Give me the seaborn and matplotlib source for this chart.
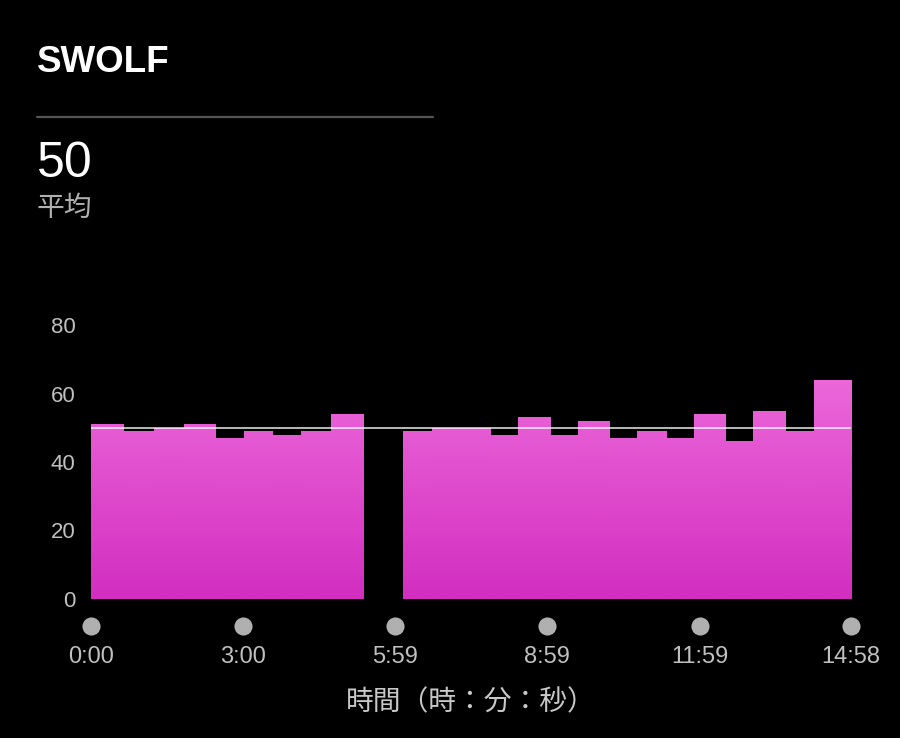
import numpy as np
import pandas as pd
import matplotlib
matplotlib.use("Agg")
import matplotlib.pyplot as plt
import matplotlib.transforms as mtransforms
from matplotlib.colors import LinearSegmentedColormap
import seaborn as sns

# lap data (seconds per lap, SWOLF per lap); None = rest
lap_secs = [38, 37, 35, 37, 34, 34, 33, 36, 38,
            47,
            34, 35, 34, 33, 38, 32, 37, 33, 35, 32, 37, 33, 38, 34, 44]
lap_swolf = [51, 49, 50, 51, 47, 49, 48, 49, 54,
             None,
             49, 50, 50, 48, 53, 48, 52, 47, 49, 47, 54, 46, 55, 49, 64]
avg_swolf = 50

tick_secs = [0, 180, 359, 539, 719, 898]
tick_labels = ["0:00", "3:00", "5:59", "8:59", "11:59", "14:58"]
y_ticks = [0, 20, 40, 60, 80]

edges = [0] + list(np.cumsum(lap_secs).astype(float))
df = pd.DataFrame({
    "mid": [(a + b) / 2 for a, b in zip(edges[:-1], edges[1:])],
    "swolf": [0.0 if v is None else float(v) for v in lap_swolf],
})

sns.set_style("dark")
plt.rcParams["font.family"] = ["Noto Sans CJK JP", "DejaVu Sans"]
latin = ["Liberation Sans", "DejaVu Sans"]

fig = plt.figure(figsize=(9, 7.38), dpi=100, facecolor="black")
ax = fig.add_axes([91 / 900, 1 - 599 / 738, 760 / 900, 274 / 738])
ax.set_facecolor("black")

sns.histplot(data=df, x="mid", weights="swolf", bins=edges, ax=ax,
             element="bars", fill=True, linewidth=0, color="#e060d0", alpha=1)

# vertical gradient fill for each bar
cmap = LinearSegmentedColormap.from_list("pink", ["#d22ec0", "#f276e0"])
grad = np.linspace(0, 1, 256).reshape(-1, 1)
for p in list(ax.patches):
    h = p.get_height()
    if h <= 0:
        continue
    x0 = p.get_x()
    w = p.get_width()
    im = ax.imshow(grad, extent=[x0, x0 + w, 0, 80], origin="lower",
                   cmap=cmap, aspect="auto", zorder=2)
    im.set_clip_path(p)
    p.set_facecolor("none")

ax.axhline(avg_swolf, color="white", lw=1.2, alpha=0.85, zorder=3)

ax.set_xlim(0, 898)
ax.set_ylim(0, 80)
ax.grid(False)
for s in ax.spines.values():
    s.set_visible(False)

ax.set_yticks(y_ticks)
ax.set_yticklabels([str(t) for t in y_ticks], color="#c0c0c0", fontsize=16,
                   family=latin)
ax.tick_params(axis="y", length=0, pad=11)

ax.set_xticks(tick_secs)
ax.set_xticklabels(tick_labels, color="#c0c0c0", fontsize=17, family=latin)
ax.tick_params(axis="x", length=0, pad=34)

# grey dots above the time labels
trans = mtransforms.blended_transform_factory(ax.transData, ax.transAxes)
ax.scatter(tick_secs, [-0.099] * len(tick_secs), s=170, color="#b0b0b0",
           transform=trans, clip_on=False, zorder=4, linewidths=0)

ax.set_xlabel("時間（時：分：秒）", color="#c8c8c8", fontsize=20, labelpad=14)
ax.set_ylabel("")

# header
fig.text(37 / 900, 1 - 72 / 738, "SWOLF", color="white", fontsize=26.5,
         fontweight="bold", family=latin, va="baseline")
fig.add_artist(plt.Line2D([37 / 900, 433 / 900], [1 - 117 / 738] * 2,
                          color="#555555", lw=1.6))
fig.text(37 / 900, 1 - 177 / 738, str(avg_swolf), color="white", fontsize=36,
         family=latin, va="baseline")
fig.text(37 / 900, 1 - 216 / 738, "平均", color="#b0b0b0", fontsize=20,
         va="baseline")

fig.savefig("out.png", dpi=100, facecolor="black")
